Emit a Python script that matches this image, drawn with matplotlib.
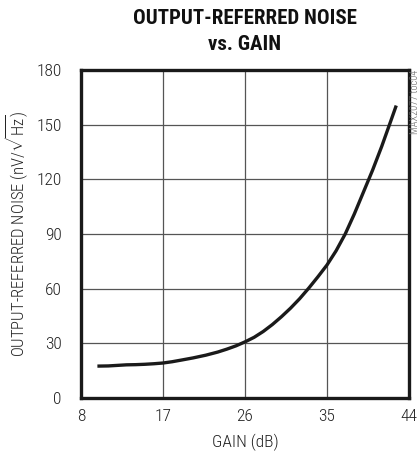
import matplotlib
matplotlib.use("Agg")
import matplotlib.pyplot as plt
from matplotlib import font_manager

gain_db = [9.8, 11.0, 12.0, 13.0, 14.0, 15.0, 16.0, 17.0, 18.0, 19.0, 20.3, 21.7, 23.0, 24.0, 25.0, 26.0,
           27.0, 28.0, 29.0, 30.0, 31.0, 32.0, 33.0, 34.0, 35.0, 36.0, 37.0, 38.0, 39.0, 40.0, 41.0, 42.0, 42.6]
noise = [17.5, 17.6, 17.9, 18.2, 18.3, 18.5, 18.8, 19.2, 19.9, 20.8, 22.0, 23.5, 25.2, 26.8, 28.6, 30.8,
         33.3, 36.5, 40.3, 44.6, 49.3, 54.5, 60.3, 66.5, 73.0, 80.8, 90.0, 101.0, 113.0, 125.0, 138.0, 152.0, 160.5]

x_ticks = [8, 17, 26, 35, 44]
y_ticks = [0, 30, 60, 90, 120, 150, 180]

names = {f.name for f in font_manager.fontManager.ttflist}
fam = "Roboto Condensed" if "Roboto Condensed" in names else "DejaVu Sans"
plt.rcParams['font.family'] = [fam, 'DejaVu Sans']
plt.rcParams['font.weight'] = 'light'
plt.rcParams['mathtext.fontset'] = 'custom'
plt.rcParams['mathtext.rm'] = fam + ':light'
plt.rcParams['mathtext.it'] = fam + ':italic'

fig = plt.figure(figsize=(4.2, 4.59), dpi=100)
ax = fig.add_axes([81/420, 1-398/459, 328/420, 328/459])

ax.plot(gain_db, noise, color='#1a1a1a', lw=2.4, solid_capstyle='butt')
ax.set_xlim(8, 44)
ax.set_ylim(0, 180)
ax.set_xticks(x_ticks)
ax.set_yticks(y_ticks)
ax.grid(True, color='#555555', lw=0.9)
ax.set_axisbelow(True)
for s in ax.spines.values():
    s.set_linewidth(2.4)
    s.set_color('#1a1a1a')
ax.tick_params(length=0, labelsize=12.5, colors='#222222')
ax.tick_params(axis='y', pad=14)
ax.tick_params(axis='x', pad=8)
for lab in ax.get_xticklabels() + ax.get_yticklabels():
    lab.set_fontweight('light')

ax.set_xlabel('GAIN (dB)', fontsize=12.5, color='#222222', labelpad=7, fontweight='light')
ax.yaxis.set_label_coords(-64/328, 150/328)
ax.set_ylabel(r'OUTPUT-REFERRED NOISE (nV/$\sqrt{\mathrm{Hz}}$)', fontsize=12, color='#222222',
              va='center', fontweight='light')

fig.text(245/420, 1-18/459, 'OUTPUT-REFERRED NOISE', ha='center', va='center',
         fontsize=15, fontweight='heavy', color='#111111')
fig.text(245/420, 1-45/459, 'vs. GAIN', ha='center', va='center',
         fontsize=15, fontweight='heavy', color='#111111')
fig.text(415/420, 1-102/459, 'MAX2077 toc04', ha='center', va='center', rotation=90,
         fontsize=7.5, color='#666666', fontweight='light')

fig.savefig('out.png', dpi=100)
